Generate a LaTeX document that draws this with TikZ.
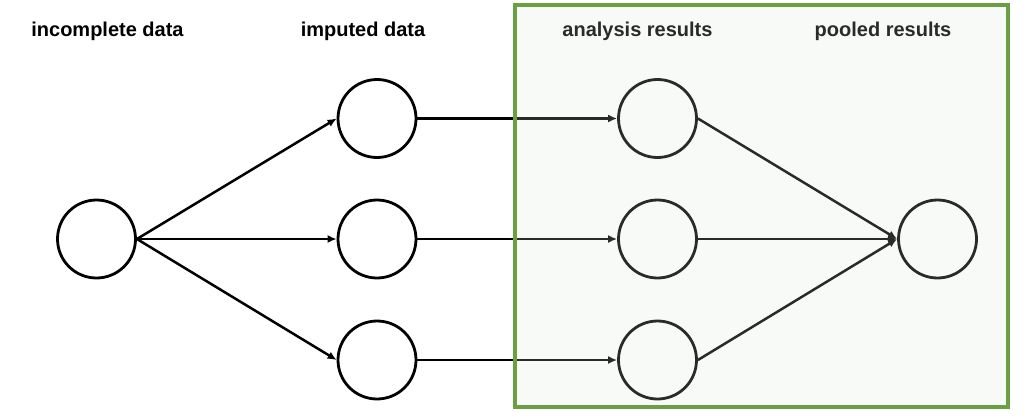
\documentclass[tikz,border=0pt]{standalone}
\usepackage{fontspec}
\setmainfont{Liberation Sans}
\usetikzlibrary{arrows.meta}
\definecolor{boxgreen}{RGB}{106,159,66}
\definecolor{boxfill}{RGB}{219,229,219}
\definecolor{ink}{RGB}{0,0,0}
\tikzset{
  circ/.style={circle, draw=ink, line width=2.8pt, minimum size=78pt, inner sep=0pt},
  conn/.style={draw=ink, line width=2.5pt, -{Latex[length=9pt,width=8pt]}},
  title/.style={font=\bfseries\fontsize{20}{24}\selectfont, text=ink, anchor=base, inner sep=0pt}
}
\begin{document}
\begin{tikzpicture}[x=1pt,y=1pt]
\useasboundingbox (0,0) rectangle (1024,416);
% titles
\node[title] (t1) at (107.5,379.5) {incomplete data};
\node[title] (t2) at (363,379.5) {imputed data};
\node[title] (t3) at (637.5,379.5) {analysis results};
\node[title] (t4) at (883,379.5) {pooled results};
% nodes
\node[circ] (inc) at (96.5,177) {};
\node[circ] (i1) at (377,297.5) {};
\node[circ] (i2) at (377,177) {};
\node[circ] (i3) at (377,56) {};
\node[circ] (a1) at (657.5,297.5) {};
\node[circ] (a2) at (657.5,177) {};
\node[circ] (a3) at (657.5,56) {};
\node[circ] (p) at (937.5,177) {};
% connectors
\draw[conn] (inc.east) -- (i1.west);
\draw[conn] (inc.east) -- (i2.west);
\draw[conn] (inc.east) -- (i3.west);
\draw[conn] (i1.east) -- (a1.west);
\draw[conn] (i2.east) -- (a2.west);
\draw[conn] (i3.east) -- (a3.west);
\draw[conn] (a1.east) -- (p.west);
\draw[conn] (a2.east) -- (p.west);
\draw[conn] (a3.east) -- (p.west);
% highlight box
\coordinate (bl) at (515,9);
\coordinate (tr) at (1008,411);
\fill[boxfill, fill opacity=0.19] (bl) rectangle (tr);
\draw[boxgreen, line width=4.5pt] (bl) rectangle (tr);
\end{tikzpicture}
\end{document}
